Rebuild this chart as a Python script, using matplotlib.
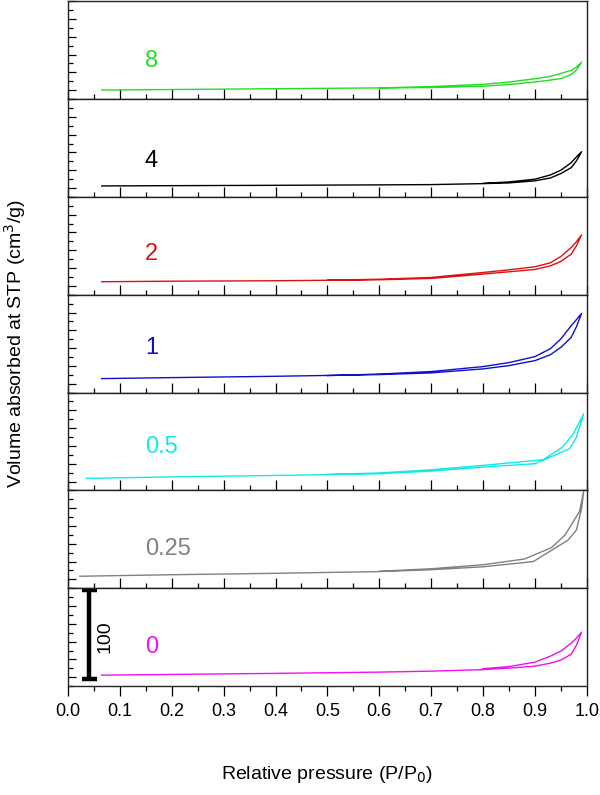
import matplotlib
matplotlib.use("Agg")
import matplotlib.pyplot as plt
from matplotlib.ticker import MultipleLocator, FormatStrFormatter

plt.rcParams['font.family'] = ['Liberation Sans', 'DejaVu Sans']

# panels from top to bottom
labels = ['8', '4', '2', '1', '0.5', '0.25', '0']
colors = ['#22dd22', '#000000', '#e01010', '#1010cc', '#11e8e8', '#808080', '#f010f0']
label_y = [42.7, 40.4, 46.0, 50.5, 48.3, 43.8, 43.8]

# adsorption branch (lower) and desorption branch (upper)
ads_x = [
    [0.065, 0.2, 0.4, 0.6, 0.7, 0.8, 0.85, 0.9, 0.93, 0.95, 0.97, 0.98, 0.99],
    [0.065, 0.2, 0.4, 0.6, 0.7, 0.8, 0.85, 0.9, 0.93, 0.95, 0.97, 0.98, 0.99],
    [0.065, 0.2, 0.4, 0.6, 0.7, 0.8, 0.85, 0.9, 0.93, 0.95, 0.97, 0.98, 0.99],
    [0.065, 0.2, 0.4, 0.6, 0.7, 0.8, 0.85, 0.9, 0.93, 0.95, 0.97, 0.98, 0.99],
    [0.035, 0.2, 0.4, 0.6, 0.7, 0.8, 0.9, 0.967, 0.98, 0.994],
    [0.023, 0.2, 0.4, 0.6, 0.7, 0.8, 0.897, 0.964, 0.98, 0.99, 0.994],
    [0.065, 0.2, 0.4, 0.6, 0.7, 0.8, 0.85, 0.9, 0.93, 0.95, 0.97, 0.98, 0.99],
]
ads_y = [
    [10.1, 10.7, 11.6, 12.5, 12.9, 14.4, 16.3, 19.1, 21.3, 23.0, 27.5, 32.5, 41.5],
    [12.3, 12.6, 13.0, 13.5, 13.8, 14.9, 15.7, 18.0, 21.3, 26.2, 32.9, 40.4, 50.8],
    [14.6, 15.2, 15.7, 16.8, 18.3, 23.2, 25.8, 28.4, 32.5, 37.4, 45.7, 55.0, 67.3],
    [15.7, 16.8, 18.3, 20.2, 22.1, 26.6, 30.3, 35.9, 42.6, 50.8, 62.1, 74.0, 89.0],
    [13.5, 15.2, 16.8, 18.7, 21.7, 26.2, 30.0, 46.8, 59.8, 86.1],
    [13.5, 15.2, 16.8, 18.7, 20.8, 24.1, 30.0, 54.2, 65.4, 89.8, 109.2],
    [12.3, 13.1, 14.3, 15.7, 16.8, 18.5, 20.2, 22.4, 25.8, 29.2, 35.9, 46.0, 60.6],
]
des_x = [
    [0.99, 0.98, 0.97, 0.95, 0.93, 0.9, 0.85, 0.8, 0.7, 0.6],
    [0.99, 0.98, 0.97, 0.95, 0.93, 0.9, 0.85, 0.8],
    [0.99, 0.98, 0.97, 0.95, 0.93, 0.9, 0.85, 0.8, 0.7, 0.6, 0.5],
    [0.99, 0.98, 0.97, 0.95, 0.93, 0.9, 0.85, 0.8, 0.7, 0.6, 0.5],
    [0.994, 0.974, 0.953, 0.916, 0.8, 0.7, 0.6, 0.5],
    [0.994, 0.986, 0.958, 0.932, 0.88, 0.8, 0.7, 0.6],
    [0.99, 0.98, 0.97, 0.95, 0.93, 0.9, 0.85, 0.8],
]
des_y = [
    [41.5, 35.9, 32.2, 28.8, 25.5, 22.8, 19.1, 16.5, 14.0, 12.5],
    [50.8, 44.9, 38.5, 30.0, 24.7, 19.9, 16.8, 15.2],
    [67.3, 59.5, 53.1, 43.0, 35.9, 31.4, 28.0, 25.0, 19.4, 17.4, 16.3],
    [89.0, 82.0, 75.2, 60.3, 49.4, 40.4, 33.7, 29.2, 23.6, 20.8, 19.1],
    [86.1, 63.6, 48.6, 34.5, 28.1, 23.2, 19.6, 18.0],
    [109.2, 86.4, 59.8, 45.7, 32.9, 26.4, 21.9, 19.1],
    [60.6, 53.9, 48.3, 39.3, 33.7, 26.9, 21.9, 19.6],
]

scale_bar = (8, 108)  # 100 cm3/g

fig, axes = plt.subplots(7, 1, figsize=(6, 7.95), dpi=100, sharex=True,
                         gridspec_kw=dict(hspace=0))
fig.subplots_adjust(left=0.1133, right=0.978, top=0.9985, bottom=0.137)

for i, ax in enumerate(axes):
    ax.plot(ads_x[i] + des_x[i], ads_y[i] + des_y[i], color=colors[i], lw=1.0)
    ax.text(0.148, label_y[i], labels[i], color=colors[i], fontsize=17,
            ha='left', va='center')
    ax.set_xlim(0, 1.0)
    ax.set_ylim(0, 110)
    ax.yaxis.set_major_locator(MultipleLocator(20, offset=10))
    ax.yaxis.set_minor_locator(MultipleLocator(10))
    ax.tick_params(axis='y', which='both', direction='in', left=True, right=False,
                   labelleft=False)
    ax.tick_params(axis='y', which='major', length=6, width=0.9)
    ax.tick_params(axis='y', which='minor', length=3.5, width=0.9)
    ax.xaxis.set_major_locator(MultipleLocator(0.1))
    ax.xaxis.set_minor_locator(MultipleLocator(0.05))
    ax.xaxis.set_major_formatter(FormatStrFormatter('%.1f'))
    if i < 6:
        ax.tick_params(axis='x', which='both', direction='in', bottom=True, top=False,
                       labelbottom=False)
    else:
        ax.tick_params(axis='x', which='both', direction='out', bottom=True, top=False,
                       labelbottom=True, labelsize=13, pad=5)
    ax.tick_params(axis='x', which='major', length=7.5, width=0.9)
    ax.tick_params(axis='x', which='minor', length=3.8, width=0.9)
    for sp in ax.spines.values():
        sp.set_linewidth(1.0)
        sp.set_color('#222222')

# scale bar in bottom panel
ax0 = axes[-1]
ax0.plot([0.041, 0.041], scale_bar, color='black', lw=3.2, solid_capstyle='butt')
for yv in scale_bar:
    ax0.plot([0.027, 0.056], [yv, yv], color='black', lw=3.2, solid_capstyle='butt')
ax0.text(0.071, 55, '100', rotation=90, fontsize=14, ha='center', va='center')

fig.text(0.025, 0.568, 'Volume absorbed at STP (cm$^3$/g)', rotation=90,
         fontsize=14, ha='center', va='center')
fig.text(0.545, 0.026, 'Relative pressure (P/P$_0$)', fontsize=14,
         ha='center', va='center')

plt.savefig('out.png', dpi=100)
